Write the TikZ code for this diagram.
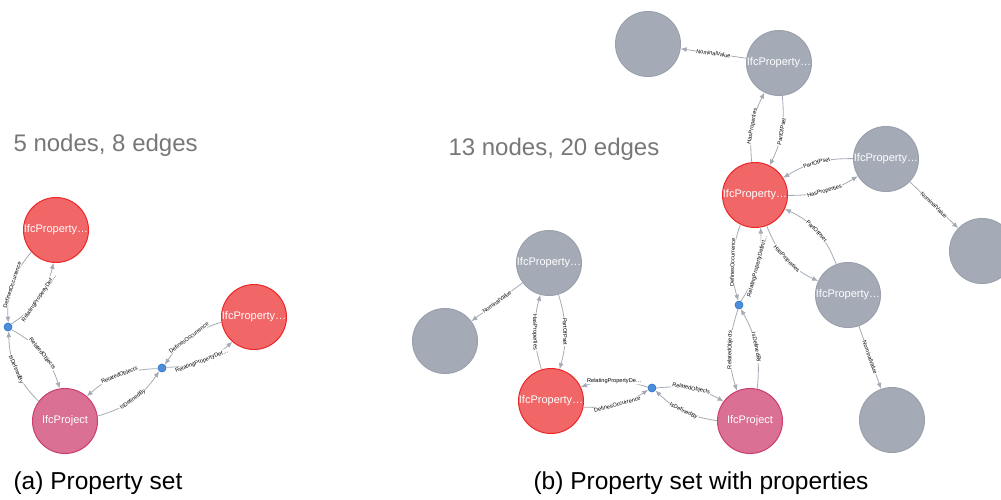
\documentclass[tikz,border=0pt]{standalone}
\usepackage{fontspec}
\setmainfont{Liberation Sans}
\usetikzlibrary{arrows.meta}

\definecolor{psetred}{HTML}{F16667}
\definecolor{psetborder}{HTML}{EB2728}
\definecolor{projpink}{HTML}{DA7194}
\definecolor{projborder}{HTML}{CC3C6C}
\definecolor{propgray}{HTML}{A5ABB6}
\definecolor{propborder}{HTML}{9AA1AC}
\definecolor{relblue}{HTML}{4C8EDA}
\definecolor{relborder}{HTML}{2870C2}
\definecolor{edgegray}{HTML}{A5ABB6}
\definecolor{countgray}{HTML}{777777}

\tikzset{
  entity/.style={circle, minimum size=65pt, inner sep=0pt, line width=1pt, text=white, font=\fontsize{11}{13}\selectfont},
  pset/.style={entity, fill=psetred, draw=psetborder},
  project/.style={entity, fill=projpink, draw=projborder},
  prop/.style={entity, fill=propgray, draw=propborder},
  reldot/.style={circle, minimum size=8pt, inner sep=0pt, fill=relblue, draw=relborder, line width=0.6pt},
  rel/.style={draw=edgegray, line width=0.8pt, -{Latex[length=6pt,width=5pt]}},
  lbl/.style={font=\fontsize{5.6}{7}\selectfont, fill=white, inner sep=0.6pt, sloped, midway},
  count/.style={anchor=base west, text=countgray, font=\fontsize{24}{28}\selectfont},
  subcap/.style={anchor=base west, font=\fontsize{24.5}{28}\selectfont},
}

\begin{document}
\begin{tikzpicture}[x=1pt,y=1pt]
\clip (0,0) rectangle (1001,-499);
\useasboundingbox (0,0) rectangle (1001,-499);

%% (a) property set only
\node[pset] (psetA1) at (56,-230) {IfcProperty…};
\node[pset] (psetA2) at (254,-317) {IfcProperty…};
\node[project] (projA) at (65,-421) {IfcProject};
\node[reldot] (relA1) at (8,-327) {};
\node[reldot] (relA2) at (162,-368) {};

\draw[rel] (psetA1) to[bend right=22] node[lbl]{DefinesOccurrence} (relA1);
\draw[rel] (relA1) to[bend right=22] node[lbl]{RelatingPropertyDef…} (psetA1);
\draw[rel] (relA1) to[bend left=22] node[lbl]{RelatedObjects} (projA);
\draw[rel] (projA) to[bend left=22] node[lbl]{IsDefinedBy} (relA1);
\draw[rel] (psetA2) to[bend right=20] node[lbl]{DefinesOccurrence} (relA2);
\draw[rel] (relA2) to[bend right=20] node[lbl]{RelatingPropertyDef…} (psetA2);
\draw[rel] (relA2) to[bend right=20] node[lbl]{RelatedObjects} (projA);
\draw[rel] (projA) to[bend right=20] node[lbl]{IsDefinedBy} (relA2);

%% (b) property set with its properties
\node[prop] (valB1) at (648,-44) {};
\node[prop] (propB1) at (779,-63) {IfcProperty…};
\node[pset] (psetB1) at (755,-195) {IfcProperty…};
\node[prop] (propB2) at (886,-159) {IfcProperty…};
\node[prop] (valB2) at (982,-251) {};
\node[prop] (propB3) at (848,-295) {IfcProperty…};
\node[prop] (valB3) at (892,-420) {};
\node[project] (projB) at (750,-421) {IfcProject};
\node[reldot] (relB1) at (739,-305) {};
\node[prop] (propB4) at (549,-263) {IfcProperty…};
\node[prop] (valB4) at (445,-341) {};
\node[pset] (psetB2) at (551,-401) {IfcProperty…};
\node[reldot] (relB2) at (652,-388) {};

% properties of the upper set
\draw[rel] (propB1) -- node[lbl]{NominalValue} (valB1);
\draw[rel] (psetB1) to[bend left=16] node[lbl]{HasProperties} (propB1);
\draw[rel] (propB1) to[bend left=16] node[lbl]{PartOfPset} (psetB1);
\draw[rel] (propB2) to[bend right=16] node[lbl]{PartOfPset} (psetB1);
\draw[rel] (psetB1) to[bend right=16] node[lbl]{HasProperties} (propB2);
\draw[rel] (propB2) -- node[lbl]{NominalValue} (valB2);
\draw[rel] (psetB1) to[bend right=22] node[lbl]{HasProperties} (propB3);
\draw[rel] (propB3) to[bend right=22] node[lbl]{PartOfPset} (psetB1);
\draw[rel] (propB3) -- node[lbl]{NominalValue} (valB3);
% upper set to project
\draw[rel] (psetB1) to[bend right=18] node[lbl]{DefinesOccurrence} (relB1);
\draw[rel] (relB1) to[bend right=18] node[lbl]{RelatingPropertyDefinit…} (psetB1);
\draw[rel] (relB1) to[bend right=18] node[lbl]{RelatedObjects} (projB);
\draw[rel] (projB) to[bend right=18] node[lbl]{IsDefinedBy} (relB1);
% lower set
\draw[rel] (propB4) -- node[lbl]{NominalValue} (valB4);
\draw[rel] (psetB2) to[bend left=16] node[lbl]{HasProperties} (propB4);
\draw[rel] (propB4) to[bend left=16] node[lbl]{PartOfPset} (psetB2);
\draw[rel] (relB2) to[bend right=18] node[lbl]{RelatingPropertyDe…} (psetB2);
\draw[rel] (psetB2) to[bend right=18] node[lbl]{DefinesOccurrence} (relB2);
\draw[rel] (relB2) to[bend left=18] node[lbl]{RelatedObjects} (projB);
\draw[rel] (projB) to[bend left=18] node[lbl]{IsDefinedBy} (relB2);

% Text Node
\node[count] (countA) at (10,-151) {5 nodes, 8 edges};
\node[count] (countB) at (445,-155) {13 nodes, 20 edges};
\node[subcap] (capA) at (10,-489) {(a) Property set};
\node[subcap] (capB) at (530,-489) {(b) Property set with properties};

\end{tikzpicture}
\end{document}
